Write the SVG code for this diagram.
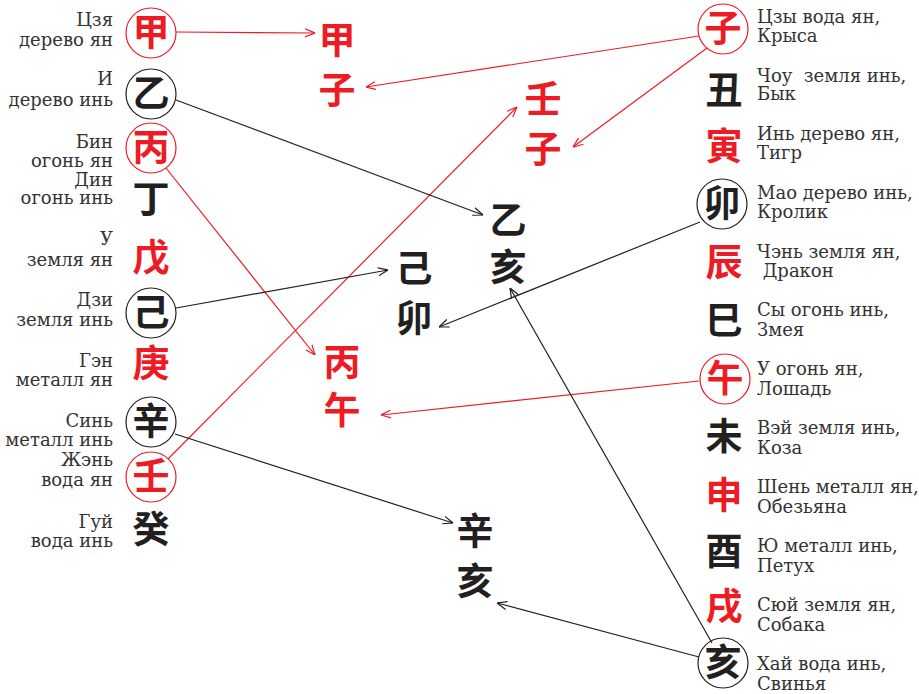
<svg xmlns="http://www.w3.org/2000/svg" width="919" height="694" viewBox="0 0 919 694">
<style>
.lbl{font-family:"DejaVu Serif","Liberation Serif",serif;font-size:18px;fill:#333;white-space:pre}
.l{text-anchor:end}
.ch{font-family:"Noto Sans CJK SC","Noto Sans CJK JP",sans-serif;font-size:37px;font-weight:700;text-anchor:middle}
.r{fill:#ed1c24}
.k{fill:#231f20}
.cr{fill:none;stroke:#ed1c24;stroke-width:1.2}
.ck{fill:none;stroke:#231f20;stroke-width:1.2}
.ar{stroke:#ed1c24;stroke-width:1.2;fill:none;marker-end:url(#mr)}
.ak{stroke:#231f20;stroke-width:1.2;fill:none;marker-end:url(#mk)}
</style>
<defs>
<marker id="mr" viewBox="0 0 10 10" refX="10" refY="5" markerWidth="10" markerHeight="10" markerUnits="userSpaceOnUse" orient="auto"><path d="M0,1 L10,5 L0,9" fill="none" stroke="#ed1c24" stroke-width="1.2"/></marker>
<marker id="mk" viewBox="0 0 10 10" refX="10" refY="5" markerWidth="10" markerHeight="10" markerUnits="userSpaceOnUse" orient="auto"><path d="M0,1 L10,5 L0,9" fill="none" stroke="#231f20" stroke-width="1.2"/></marker>
</defs>
<rect width="919" height="694" fill="#fff"/>
<g id="connectors">
<line class="ar" x1="176" y1="32" x2="315" y2="33"/>
<line class="ar" x1="699" y1="36" x2="366" y2="87"/>
<line class="ar" x1="707" y1="48" x2="573" y2="147"/>
<line class="ar" x1="168" y1="459" x2="517" y2="107"/>
<line class="ar" x1="166" y1="168" x2="315" y2="355"/>
<line class="ar" x1="699" y1="381" x2="381" y2="415"/>
<line class="ak" x1="176" y1="100" x2="483" y2="215"/>
<line class="ak" x1="712" y1="643" x2="510" y2="288"/>
<line class="ak" x1="700" y1="222" x2="439" y2="327"/>
<line class="ak" x1="176" y1="308" x2="388" y2="270"/>
<line class="ak" x1="175" y1="434" x2="453" y2="523"/>
<line class="ak" x1="699" y1="657" x2="497" y2="603"/>
</g>
<g id="stem-jia"><circle class="cr" cx="151" cy="33" r="25"/><text class="ch r" x="151" y="46">甲</text><text class="lbl l" x="113" y="26">Цзя<tspan x="113" y="46">дерево ян</tspan></text></g>
<g id="stem-yi"><circle class="ck" cx="151" cy="94" r="25"/><text class="ch k" x="151" y="107">乙</text><text class="lbl l" x="113" y="85">И<tspan x="113" y="106">дерево инь</tspan></text></g>
<g id="stem-bing"><circle class="cr" cx="151" cy="148" r="25"/><text class="ch r" x="151" y="161">丙</text><text class="lbl l" x="113" y="148">Бин<tspan x="113" y="167">огонь ян</tspan></text></g>
<g id="stem-ding"><text class="ch k" x="151" y="213">丁</text><text class="lbl l" x="113" y="186">Дин<tspan x="113" y="204">огонь инь</tspan></text></g>
<g id="stem-wu"><text class="ch r" x="151" y="271">戊</text><text class="lbl l" x="113" y="245">У<tspan x="113" y="266">земля ян</tspan></text></g>
<g id="stem-ji"><circle class="ck" cx="151" cy="313" r="25"/><text class="ch k" x="151" y="326">己</text><text class="lbl l" x="113" y="306">Дзи<tspan x="113" y="326">земля инь</tspan></text></g>
<g id="stem-geng"><text class="ch r" x="151" y="377">庚</text><text class="lbl l" x="113" y="367">Гэн<tspan x="113" y="386">металл ян</tspan></text></g>
<g id="stem-xin"><circle class="ck" cx="151" cy="422" r="25"/><text class="ch k" x="151" y="435">辛</text><text class="lbl l" x="113" y="427">Синь<tspan x="113" y="446">металл инь</tspan></text></g>
<g id="stem-ren"><circle class="cr" cx="151" cy="477" r="25"/><text class="ch r" x="151" y="490">壬</text><text class="lbl l" x="113" y="466">Жэнь<tspan x="113" y="486">вода ян</tspan></text></g>
<g id="stem-gui"><text class="ch k" x="151" y="543">癸</text><text class="lbl l" x="113" y="528">Гуй<tspan x="113" y="547">вода инь</tspan></text></g>

<g id="branch-zi"><circle class="cr" cx="723" cy="29" r="25"/><text class="ch r" x="723" y="42">子</text><text class="lbl" x="757" y="23">Цзы вода ян,<tspan x="757" y="42">Крыса</tspan></text></g>
<g id="branch-chou"><text class="ch k" x="724" y="104">丑</text><text class="lbl" x="757" y="82">Чоу  земля инь,<tspan x="757" y="100">Бык</tspan></text></g>
<g id="branch-yin"><text class="ch r" x="724" y="160">寅</text><text class="lbl" x="757" y="140">Инь дерево ян,<tspan x="757" y="159">Тигр</tspan></text></g>
<g id="branch-mao"><circle class="ck" cx="722" cy="204" r="25"/><text class="ch k" x="722" y="217">卯</text><text class="lbl" x="757" y="199">Мао дерево инь,<tspan x="757" y="218">Кролик</tspan></text></g>
<g id="branch-chen"><text class="ch r" x="724" y="276">辰</text><text class="lbl" x="757" y="258">Чэнь земля ян,<tspan x="757" y="277"> Дракон</tspan></text></g>
<g id="branch-si"><text class="ch k" x="724" y="334">巳</text><text class="lbl" x="757" y="316">Сы огонь инь,<tspan x="757" y="336">Змея</tspan></text></g>
<g id="branch-wu"><circle class="cr" cx="725" cy="379" r="25"/><text class="ch r" x="725" y="392">午</text><text class="lbl" x="757" y="375">У огонь ян,<tspan x="757" y="395">Лошадь</tspan></text></g>
<g id="branch-wei"><text class="ch k" x="724" y="450">未</text><text class="lbl" x="757" y="434">Вэй земля инь,<tspan x="757" y="454">Коза</tspan></text></g>
<g id="branch-shen"><text class="ch r" x="724" y="509">申</text><text class="lbl" x="757" y="493">Шень металл ян,<tspan x="757" y="513">Обезьяна</tspan></text></g>
<g id="branch-you"><text class="ch k" x="724" y="565">酉</text><text class="lbl" x="757" y="552">Ю металл инь,<tspan x="757" y="572">Петух</tspan></text></g>
<g id="branch-xu"><text class="ch r" x="724" y="620">戌</text><text class="lbl" x="757" y="611">Сюй земля ян,<tspan x="757" y="631">Собака</tspan></text></g>
<g id="branch-hai"><circle class="ck" cx="723" cy="663" r="25"/><text class="ch k" x="723" y="676">亥</text><text class="lbl" x="757" y="670">Хай вода инь,<tspan x="757" y="690">Свинья</tspan></text></g>

<g id="pair-jiazi"><text class="ch r" x="337" y="54">甲<tspan x="337" y="104">子</tspan></text></g>
<g id="pair-renzi"><text class="ch r" x="543" y="113">壬<tspan x="543" y="163">子</tspan></text></g>
<g id="pair-yihai"><text class="ch k" x="508" y="234">乙<tspan x="508" y="281">亥</tspan></text></g>
<g id="pair-jimao"><text class="ch k" x="414" y="282">己<tspan x="414" y="332">卯</tspan></text></g>
<g id="pair-bingwu"><text class="ch r" x="342" y="376">丙<tspan x="342" y="424">午</tspan></text></g>
<g id="pair-xinhai"><text class="ch k" x="475" y="545">辛<tspan x="475" y="595">亥</tspan></text></g>
</svg>
